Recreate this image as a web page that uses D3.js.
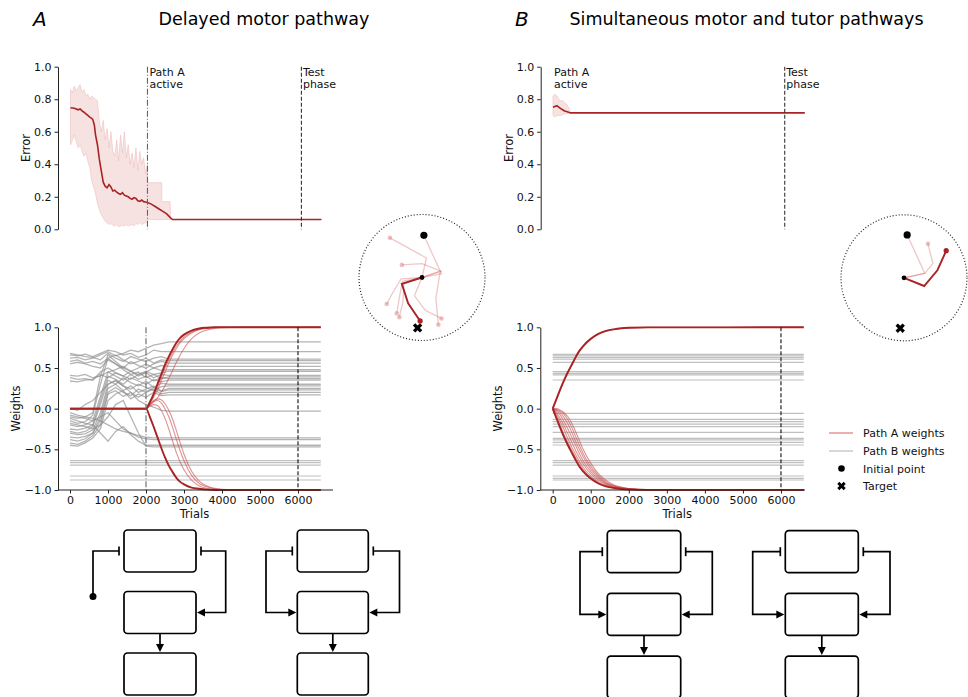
<!DOCTYPE html>
<html><head><meta charset="utf-8">
<script src="https://cdn.jsdelivr.net/npm/d3@7"></script>
<style>body{margin:0;background:#fff}svg{display:block;font-family:"DejaVu Sans",sans-serif}</style>
</head><body><script>
// ---------------- DATA ----------------
const errTicks=[0,0.2,0.4,0.6,0.8,1.0];
const wTicks=[-1,-0.5,0,0.5,1];
const trialTicks=[0,1000,2000,3000,4000,5000,6000];
const pathAStart=2000, testStart=6000, errEnd=6520, wEnd=6600;

// Panel A error: mean curve
const errAMeanT=[0,100,200,250,300,350,400,450,500,550,580,620,650,700,750,800,850,900,950,1000,1050,1100,1150,1200,1250,1300,1350,1400,1450,1500,1550,1600,1650,1700,1750,1800,1850,1900,1950,2000,2100,2200,2300,2400,2500,2600,2650,errEnd];
const errAMean=[0.748,0.745,0.735,0.74,0.728,0.72,0.71,0.70,0.69,0.682,0.675,0.64,0.58,0.52,0.43,0.36,0.29,0.265,0.255,0.275,0.26,0.235,0.24,0.228,0.22,0.215,0.225,0.21,0.205,0.20,0.19,0.185,0.195,0.19,0.175,0.172,0.18,0.17,0.168,0.165,0.155,0.14,0.125,0.11,0.095,0.07,0.06,0.06];
// Panel A error: spread of runs
const errABandT=[0,50,100,150,200,250,300,350,400,450,500,550,600,650,700,750,800,850,900,950,1000,1050,1100,1150,1200,1250,1300,1350,1400,1450,1500,1550,1600,1650,1700,1750,1800,1850,1900,1950,2000,2005,2370,2375,2590,2600,2650];
const errABandU=[0.86,0.84,0.88,0.85,0.87,0.89,0.84,0.86,0.82,0.83,0.80,0.82,0.81,0.80,0.79,0.66,0.60,0.67,0.55,0.62,0.50,0.60,0.48,0.45,0.55,0.42,0.58,0.47,0.60,0.44,0.52,0.40,0.47,0.38,0.50,0.36,0.48,0.40,0.44,0.34,0.40,0.287,0.287,0.17,0.17,0.06,0.06];
const errABandL=[0.52,0.55,0.58,0.54,0.50,0.52,0.48,0.45,0.47,0.42,0.38,0.30,0.26,0.22,0.16,0.12,0.09,0.07,0.05,0.04,0.03,0.035,0.025,0.02,0.03,0.015,0.02,0.025,0.02,0.03,0.02,0.025,0.03,0.02,0.035,0.03,0.04,0.03,0.035,0.04,0.045,0.06,0.06,0.06,0.06,0.06,0.06];

// Panel B error
const errBMeanT=[0,50,100,150,200,250,300,350,400,450,errEnd];
const errBMean=[0.75,0.755,0.76,0.752,0.742,0.735,0.728,0.724,0.72,0.716,0.716];
const errBBandT=[0,50,100,150,200,250,300,350,400,450];
const errBBandU=[0.82,0.83,0.82,0.80,0.79,0.79,0.78,0.77,0.75,0.716];
const errBBandL=[0.70,0.69,0.70,0.70,0.70,0.705,0.71,0.71,0.715,0.716];

// Panel A weights: path B (grey) trajectories
const greyAT=[0,200,400,600,800,1000,1200,1400,1600,1800,2000,2200,2400,2600,2700];
const greyA=[
 [0.62,0.63,0.60,0.62,0.66,0.70,0.65,0.68,0.72,0.70,0.74,0.78,0.80,0.82,0.82],
 [0.66,0.65,0.67,0.64,0.68,0.72,0.70,0.66,0.68,0.63,0.66,0.72,0.70,0.70,0.70],
 [0.68,0.66,0.64,0.63,0.60,0.68,0.62,0.58,0.64,0.61,0.58,0.62,0.64,0.61,0.61],
 [0.58,0.60,0.56,0.58,0.55,0.62,0.66,0.60,0.55,0.58,0.62,0.56,0.60,0.59,0.59],
 [0.55,0.57,0.55,0.52,0.50,0.60,0.55,0.50,0.58,0.53,0.50,0.55,0.58,0.56,0.56],
 [0.41,0.40,0.42,0.38,0.40,0.45,0.48,0.52,0.46,0.50,0.55,0.50,0.53,0.52,0.52],
 [0.38,0.36,0.37,0.35,0.45,0.50,0.44,0.40,0.46,0.42,0.45,0.50,0.47,0.48,0.48],
 [0.34,0.33,0.35,0.36,0.42,0.38,0.44,0.40,0.36,0.42,0.46,0.42,0.44,0.46,0.46],
 [-0.10,-0.12,-0.10,-0.05,0.40,0.66,0.58,0.50,0.46,0.40,0.44,0.38,0.42,0.41,0.41],
 [-0.15,-0.18,-0.16,-0.08,0.30,0.62,0.55,0.48,0.42,0.45,0.38,0.42,0.37,0.39,0.39],
 [-0.20,-0.22,-0.20,-0.15,0.15,0.45,0.40,0.35,0.42,0.36,0.40,0.34,0.38,0.37,0.37],
 [-0.25,-0.26,-0.24,-0.20,0.10,0.40,0.36,0.30,0.38,0.34,0.30,0.36,0.33,0.35,0.35],
 [-0.28,-0.30,-0.28,-0.22,0.05,0.35,0.30,0.38,0.32,0.28,0.34,0.26,0.31,0.30,0.30],
 [-0.30,-0.32,-0.31,-0.26,-0.05,0.30,0.34,0.28,0.24,0.30,0.26,0.22,0.27,0.28,0.28],
 [-0.35,-0.36,-0.34,-0.30,-0.10,0.25,0.30,0.22,0.28,0.20,0.24,0.28,0.22,0.25,0.25],
 [-0.38,-0.40,-0.37,-0.30,-0.15,0.20,0.26,0.20,0.16,0.24,0.20,0.26,0.21,0.23,0.23],
 [-0.42,-0.44,-0.40,-0.33,-0.20,0.18,0.22,0.15,0.20,0.14,0.20,0.24,0.18,0.20,0.20],
 [-0.45,-0.46,-0.42,-0.36,-0.25,0.10,0.18,0.22,0.12,0.18,0.14,0.20,0.16,0.17,0.17],
 [0.00,-0.02,0.05,0.10,0.20,0.30,0.35,0.28,0.20,0.10,0.05,0.02,-0.02,-0.03,-0.03],
 [-0.05,-0.08,-0.10,-0.12,-0.15,-0.20,-0.25,-0.28,-0.30,-0.33,-0.35,-0.36,-0.36,-0.36,-0.36],
 [-0.08,-0.10,-0.12,-0.15,-0.10,-0.05,-0.15,-0.25,-0.30,-0.35,-0.37,-0.38,-0.38,-0.38,-0.38],
 [-0.12,-0.15,-0.18,-0.20,-0.30,-0.40,-0.28,-0.22,-0.32,-0.40,-0.45,-0.45,-0.45,-0.45,-0.45],
 [-0.18,-0.20,-0.22,-0.25,-0.20,-0.10,0.05,0.10,-0.10,-0.30,-0.46,-0.47,-0.47,-0.47,-0.47]
];
const greyAFlat=[-0.64,-0.664,-0.693,-0.828,-0.877];

// Panel A weights: path A (red) trajectories
const redAT=[0,2000,2100,2200,2300,2400,2500,2600,2700,2800,2900,3000,3200,3400,3600,3800,4000,4500,5000,6600];
const redADark=[
 [0,0,0.08,0.18,0.30,0.42,0.54,0.64,0.73,0.81,0.87,0.91,0.96,0.985,0.995,1,1,1,1,1],
 [0,0,-0.10,-0.22,-0.35,-0.48,-0.60,-0.70,-0.78,-0.85,-0.90,-0.93,-0.97,-0.985,-0.995,-1,-1,-1,-1,-1]
];
const redALight=[
 [0,0,0.07,0.16,0.27,0.38,0.50,0.60,0.69,0.77,0.83,0.88,0.94,0.975,0.99,1,1,1,1,1],
 [0,0,0.04,0.08,0.13,0.20,0.28,0.37,0.47,0.57,0.66,0.74,0.86,0.93,0.965,0.985,0.995,1,1,1],
 [0,0,0.06,0.14,0.23,0.34,0.45,0.56,0.66,0.74,0.81,0.86,0.93,0.97,0.985,0.995,1,1,1,1],
 [0,0,0.05,0.09,0.10,0.07,0.0,-0.10,-0.23,-0.38,-0.52,-0.64,-0.82,-0.92,-0.96,-0.985,-0.995,-1,-1,-1],
 [0,0,0.05,0.10,0.12,0.11,0.06,-0.02,-0.13,-0.27,-0.42,-0.56,-0.77,-0.89,-0.95,-0.98,-0.99,-1,-1,-1],
 [0,0,0.03,0.05,0.04,-0.02,-0.12,-0.25,-0.40,-0.54,-0.66,-0.75,-0.88,-0.95,-0.98,-0.99,-1,-1,-1,-1]
];

// Panel B weights
const greyBFlat=[0.668,0.648,0.627,0.607,0.57,0.455,0.434,0.414,0.352,-0.057,-0.131,-0.16,-0.189,-0.221,-0.291,-0.365,-0.385,-0.414,-0.447,-0.639,-0.664,-0.693,-0.828,-0.857,-0.877];
const redBT=[0,100,200,300,400,500,600,700,800,1000,1200,1400,1600,1800,2000,2500,6600];
const redBDark=[
 [0,0.12,0.24,0.35,0.45,0.54,0.63,0.71,0.77,0.86,0.92,0.955,0.975,0.988,0.994,0.999,1],
 [0,-0.12,-0.24,-0.35,-0.45,-0.54,-0.63,-0.71,-0.77,-0.86,-0.92,-0.955,-0.975,-0.988,-0.994,-0.999,-1]
];
const redBLight=[
 [0,0.11,0.23,0.34,0.44,0.53,0.62,0.70,0.76,0.85,0.915,0.95,0.972,0.986,0.993,0.999,1],
 [0,-0.10,-0.21,-0.32,-0.42,-0.51,-0.60,-0.68,-0.75,-0.85,-0.91,-0.95,-0.972,-0.986,-0.993,-0.999,-1],
 [0,-0.07,-0.16,-0.26,-0.37,-0.47,-0.56,-0.65,-0.72,-0.83,-0.90,-0.94,-0.968,-0.983,-0.991,-0.998,-1],
 [0,-0.05,-0.12,-0.21,-0.31,-0.41,-0.51,-0.60,-0.68,-0.80,-0.88,-0.93,-0.962,-0.98,-0.99,-0.998,-1],
 [0,-0.03,-0.08,-0.16,-0.25,-0.35,-0.45,-0.55,-0.64,-0.77,-0.86,-0.92,-0.955,-0.976,-0.988,-0.998,-1],
 [0,-0.02,-0.05,-0.11,-0.19,-0.29,-0.40,-0.50,-0.59,-0.74,-0.84,-0.91,-0.95,-0.973,-0.986,-0.997,-1],
 [0,-0.01,-0.03,-0.07,-0.14,-0.23,-0.34,-0.45,-0.55,-0.71,-0.82,-0.90,-0.945,-0.97,-0.984,-0.997,-1],
 [0,0.0,-0.02,-0.05,-0.10,-0.18,-0.28,-0.39,-0.50,-0.67,-0.80,-0.88,-0.935,-0.965,-0.982,-0.996,-1]
];

// Arm configurations (unit-circle coordinates)
const armsALight=[
 [[0,0],[0.31,0.06],[0.17,0.36],[0.03,0.67]],
 [[0,0],[0.07,0.31],[-0.22,0.47],[-0.51,0.63]],
 [[0,0],[0.30,0.10],[0.0,0.22],[-0.32,0.2]],
 [[0,0],[-0.33,-0.02],[-0.47,-0.25],[-0.56,-0.42]],
 [[0,0],[-0.31,-0.06],[-0.36,-0.32],[-0.40,-0.57]],
 [[0,0],[-0.29,-0.10],[-0.30,-0.38],[-0.36,-0.63]],
 [[0,0],[-0.12,-0.29],[0.05,-0.52],[0.31,-0.65]],
 [[0,0],[0.29,0.10],[0.22,-0.33],[0.26,-0.75]]
];
const armsADark=[[0,0],[-0.32,-0.10],[-0.22,-0.41],[-0.03,-0.69]];
const initA=[0.03,0.67], targetA=[-0.07,-0.80];
const armsBLight=[
 [[0,0],[0.33,0.07],[0.19,0.38],[0.05,0.68]],
 [[0,0],[0.33,0.07],[0.46,0.23],[0.38,0.54]]
];
const armsBDark=[[0,0],[0.32,-0.13],[0.53,0.12],[0.67,0.43]];
const initB=[0.05,0.68], targetB=[-0.06,-0.80];

const legendLabels=["Path A weights","Path B weights","Initial point","Target"];

// ---------------- DRAWING ----------------
const svg=d3.select("body").append("svg").attr("width",968).attr("height",697);
const DARK="#a82424", LIGHTRED="#c94a4a", GREYC="#8c8c8c";
const fmt=d3.format(".1f");
const line=(x,y)=>d3.line().x(d=>x(d[0])).y(d=>y(d[1]));

function styleAxis(g){
  g.attr("font-family","DejaVu Sans").attr("font-size",11);
  g.selectAll(".domain").attr("stroke","#222").attr("stroke-width",1);
  g.selectAll(".tick line").attr("stroke","#222");
  g.selectAll(".tick text").attr("fill","#111");
}

function vmarker(g,xp,y0,y1,dash,color){
  g.append("line").attr("x1",xp).attr("x2",xp).attr("y1",y0).attr("y2",y1)
   .attr("stroke",color).attr("stroke-width",1.1).attr("stroke-dasharray",dash);
}
function twoLine(g,xp,a,b){
  const t=g.append("text").attr("font-size",11).attr("fill","#111");
  t.append("tspan").attr("x",xp).attr("y",76).text(a);
  t.append("tspan").attr("x",xp).attr("y",88).text(b);
}

function errorPanel(o){
  const g=svg.append("g");
  const x=d3.scaleLinear().domain([0,wEnd]).range([o.x0,o.x1]);
  const y=d3.scaleLinear().domain([0,1]).range([229.3,66.7]);
  const area=d3.area().x(d=>x(d[0])).y0(d=>y(d[2])).y1(d=>y(d[1]));
  g.append("path").datum(d3.zip(o.bandT,o.bandU,o.bandL)).attr("d",area)
    .attr("fill","#f2cfcf").attr("fill-opacity",0.6);
  g.append("path").datum(d3.zip(o.bandT,o.bandU,o.bandL)).attr("d",area)
    .attr("fill","none").attr("stroke","#eab7b7").attr("stroke-width",0.5);
  g.append("path").datum(d3.zip(o.meanT,o.mean)).attr("d",line(x,y))
    .attr("fill","none").attr("stroke",DARK).attr("stroke-width",1.6);
  if(o.pathALine) vmarker(g,x(pathAStart),66.7,229.3,"6,2,1,2","#666");
  vmarker(g,x(testStart),66.7,229.3,"4,2","#333");
  twoLine(g,o.pathLabelX!==undefined?o.pathLabelX:x(pathAStart)+2,"Path A","active");
  twoLine(g,x(testStart)+1.5,"Test","phase");
  const ax=g.append("g").attr("transform",`translate(${o.spine},0)`)
    .call(d3.axisLeft(y).tickValues(errTicks).tickFormat(fmt).tickSize(3.5).tickSizeOuter(0).tickPadding(3));
  styleAxis(ax);
  g.append("text").attr("transform",`translate(${o.spine-28},148) rotate(-90)`)
    .attr("text-anchor","middle").attr("font-size",11.5).attr("fill","#111").text("Error");
}

function weightsPanel(o){
  const g=svg.append("g");
  const x=d3.scaleLinear().domain([0,wEnd]).range([o.x0,o.x1]);
  const y=d3.scaleLinear().domain([-1,1]).range([490,327.3]);
  const L=line(x,y);
  o.greyFlat.forEach(v=>{
    g.append("path").datum([[0,v],[wEnd,v]]).attr("d",L).attr("fill","none")
     .attr("stroke",GREYC).attr("stroke-opacity",0.55).attr("stroke-width",1.2);
  });
  (o.grey||[]).forEach(s=>{
    const pts=d3.zip(o.greyT,s); pts.push([wEnd,s[s.length-1]]);
    g.append("path").datum(pts).attr("d",L).attr("fill","none")
     .attr("stroke",GREYC).attr("stroke-opacity",0.65).attr("stroke-width",1.3);
  });
  const C=d3.line().curve(d3.curveMonotoneX).x(d=>x(d[0])).y(d=>y(d[1]));
  o.redLight.forEach(s=>{
    g.append("path").datum(d3.zip(o.redT,s)).attr("d",C)
     .attr("fill","none").attr("stroke",LIGHTRED).attr("stroke-opacity",0.6).attr("stroke-width",1.1);
  });
  o.redDark.forEach(s=>{
    g.append("path").datum(d3.zip(o.redT,s)).attr("d",C)
     .attr("fill","none").attr("stroke",DARK).attr("stroke-width",1.9);
  });
  if(o.pathALine) vmarker(g,x(pathAStart),327.3,490,"6,2,1,2","#666");
  vmarker(g,x(testStart),327.3,490,"4,2","#111");
  const ay=g.append("g").attr("transform",`translate(${o.spine},0)`)
    .call(d3.axisLeft(y).tickValues(wTicks).tickFormat(fmt).tickSize(3.5).tickSizeOuter(0).tickPadding(3));
  styleAxis(ay);
  const axb=g.append("g").attr("transform","translate(0,490)")
    .call(d3.axisBottom(x).tickValues(trialTicks).tickFormat(d3.format("d")).tickSize(3.5).tickPadding(3));
  axb.select(".domain").remove();
  styleAxis(axb);
  g.append("line").attr("x1",o.spine).attr("x2",o.xAxisEnd).attr("y1",490).attr("y2",490).attr("stroke","#222");
  g.append("text").attr("x",(o.x0+o.x1)/2-1).attr("y",518).attr("text-anchor","middle")
   .attr("font-size",11.5).attr("fill","#111").text("Trials");
  g.append("text").attr("transform",`translate(${o.spine-38},408.5) rotate(-90)`)
    .attr("text-anchor","middle").attr("font-size",11.5).attr("fill","#111").text("Weights");
}

function armPanel(o){
  const g=svg.append("g");
  const sx=d3.scaleLinear().domain([-1,1]).range([o.cx-63,o.cx+63]);
  const sy=d3.scaleLinear().domain([-1,1]).range([o.cy+63,o.cy-63]);
  g.append("circle").attr("cx",sx(0)).attr("cy",sy(0)).attr("r",sx(1)-sx(0))
   .attr("fill","none").attr("stroke","#222").attr("stroke-width",1.2).attr("stroke-dasharray","1,2");
  const L=line(sx,sy);
  o.light.forEach((a,i)=>{
    g.append("path").datum(a).attr("d",L).attr("fill","none").attr("stroke","#c94a4a")
      .attr("stroke-opacity",0.3).attr("stroke-width",1.3);
    if(i>0){const e=a[a.length-1];
      g.append("circle").attr("cx",sx(e[0])).attr("cy",sy(e[1])).attr("r",2.3).attr("fill","#c94a4a").attr("fill-opacity",0.35);}
  });
  g.append("path").datum(o.dark).attr("d",L).attr("fill","none").attr("stroke",DARK).attr("stroke-width",1.9);
  const e=o.dark[o.dark.length-1];
  g.append("circle").attr("cx",sx(e[0])).attr("cy",sy(e[1])).attr("r",2.6).attr("fill",DARK);
  g.append("circle").attr("cx",sx(0)).attr("cy",sy(0)).attr("r",2.4).attr("fill","#000");
  g.append("circle").attr("cx",sx(o.init[0])).attr("cy",sy(o.init[1])).attr("r",3.6).attr("fill","#000");
  g.append("path").attr("d",d3.symbol(d3.symbolCross,55)())
   .attr("transform",`translate(${sx(o.target[0])},${sy(o.target[1])}) rotate(45)`).attr("fill","#000");
}

function diagram(o){
  const g=svg.append("g").attr("fill","none").attr("stroke","#000").attr("stroke-width",1.7);
  for(let i=0;i<3;i++) g.append("rect").attr("x",o.bx).attr("y",o.by+i*o.pitch).attr("width",o.bw).attr("height",o.bh).attr("rx",3.5);
  const y1=o.by+o.bh/2, y2=o.by+o.pitch+o.bh/2, R=o.bx+o.bw;
  const head=(tx,ty,dir)=>{
    let p;
    if(dir==='l') p=[[tx,ty],[tx+8,ty-4],[tx+8,ty+4]];
    else if(dir==='r') p=[[tx,ty],[tx-8,ty-4],[tx-8,ty+4]];
    else p=[[tx,ty],[tx-4,ty-8],[tx+4,ty-8]];
    svg.append("path").attr("d","M"+p.join("L")+"Z").attr("fill","#000");
  };
  g.append("path").attr("d",`M${R+5},${y1}H${o.rx}V${y2}H${R+8}`);
  g.append("path").attr("d",`M${R+5},${y1-4.5}V${y1+4.5}`);
  head(R+1,y2,'l');
  if(o.dot){
    const dy=o.by+o.pitch+5;
    g.append("path").attr("d",`M${o.lx},${dy}V${y1}H${o.bx-5}`);
    svg.append("circle").attr("cx",o.lx).attr("cy",dy).attr("r",3.5).attr("fill","#000");
  } else {
    g.append("path").attr("d",`M${o.bx-8},${y2}H${o.lx}V${y1}H${o.bx-5}`);
    head(o.bx-1,y2,'r');
  }
  g.append("path").attr("d",`M${o.bx-5},${y1-4.5}V${y1+4.5}`);
  const cx=o.bx+o.bw/2;
  g.append("path").attr("d",`M${cx},${o.by+o.pitch+o.bh}V${o.by+2*o.pitch-8}`);
  head(cx,o.by+2*o.pitch-1,'d');
}

// Titles
svg.append("text").attr("x",33).attr("y",26).attr("font-size",20).attr("font-style","italic").text("A");
svg.append("text").attr("x",264).attr("y",25).attr("font-size",17.5).attr("text-anchor","middle").text("Delayed motor pathway");
svg.append("text").attr("x",515).attr("y",26).attr("font-size",20).attr("font-style","italic").text("B");
svg.append("text").attr("x",746.5).attr("y",25).attr("font-size",17.5).attr("text-anchor","middle").text("Simultaneous motor and tutor pathways");

errorPanel({x0:70.5,x1:324.5,spine:58,bandT:errABandT,bandU:errABandU,bandL:errABandL,meanT:errAMeanT,mean:errAMean,pathALine:true});
errorPanel({x0:553,x1:807.9,spine:540.7,bandT:errBBandT,bandU:errBBandU,bandL:errBBandL,meanT:errBMeanT,mean:errBMean,pathALine:false,pathLabelX:554});

weightsPanel({x0:70,x1:320.8,spine:58,xAxisEnd:333,greyT:greyAT,grey:greyA,greyFlat:greyAFlat,redT:redAT,redLight:redALight,redDark:redADark,pathALine:true});
weightsPanel({x0:552.7,x1:803.8,spine:540.3,xAxisEnd:805,greyT:[],grey:[],greyFlat:greyBFlat,redT:redBT,redLight:redBLight,redDark:redBDark,pathALine:false});

armPanel({cx:422,cy:277.5,light:armsALight,dark:armsADark,init:initA,target:targetA});
armPanel({cx:904,cy:277.8,light:armsBLight,dark:armsBDark,init:initB,target:targetB});

// Legend
const lg=svg.append("g").attr("font-size",11).attr("fill","#111");
const rows=[433,451,468.5,486];
lg.append("line").attr("x1",829).attr("x2",853).attr("y1",rows[0]).attr("y2",rows[0]).attr("stroke","#e07a7a").attr("stroke-width",1.2);
lg.append("line").attr("x1",829).attr("x2",853).attr("y1",rows[1]).attr("y2",rows[1]).attr("stroke","#bdbdbd").attr("stroke-width",1.2);
lg.append("circle").attr("cx",841.5).attr("cy",rows[2]).attr("r",3.3).attr("fill","#000");
lg.append("path").attr("d",d3.symbol(d3.symbolCross,45)()).attr("transform",`translate(841.5,${rows[3]}) rotate(45)`).attr("fill","#000");
legendLabels.forEach((t,i)=>lg.append("text").attr("x",863).attr("y",rows[i]+4).text(t));

// Schematic diagrams
diagram({bx:124,bw:72,by:530,pitch:61.5,bh:42,lx:93,rx:225.7,dot:true});
diagram({bx:297.3,bw:71,by:530,pitch:61.5,bh:42,lx:266,rx:399.5,dot:false});
diagram({bx:607.3,bw:73.4,by:530.7,pitch:62.7,bh:42,lx:580,rx:712.3,dot:false});
diagram({bx:785.3,bw:73,by:530.7,pitch:62.7,bh:42,lx:752.7,rx:890,dot:false});
</script></body></html>
